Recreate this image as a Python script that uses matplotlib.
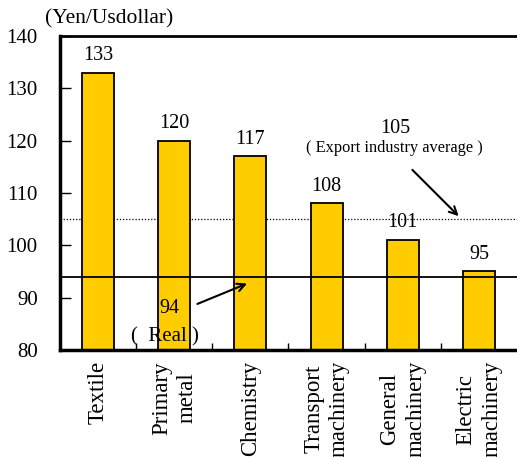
import matplotlib.pyplot as plt

plt.rcParams["font.family"] = ["Liberation Serif", "DejaVu Serif"]

industries = ["Textile", "Primary\nmetal", "Chemistry", "Transport\nmachinery",
              "General\nmachinery", "Electric\nmachinery"]
rates = [133, 120, 117, 108, 101, 95]
real_rate = 94
export_avg = 105

fig = plt.figure(figsize=(5.17, 4.57), dpi=100)
ax = fig.add_axes([60 / 517, 1 - 350 / 457, 1 - 60 / 517, (350 - 36) / 457])

x = list(range(len(industries)))
ax.axhline(export_avg, color="black", lw=0.9, ls=(0, (1, 1.5)), zorder=1)
ax.bar(x, rates, width=0.42, color="#FFCC00", edgecolor="black", lw=1.3, zorder=2)
ax.axhline(real_rate, color="black", lw=1.3, zorder=3)

for xi, v in zip(x, rates):
    ax.text(xi, v + 1.5, str(v), ha="center", va="bottom", fontsize=14.5)

ax.set_xlim(-0.5, len(industries) - 0.5)
ax.set_ylim(80, 140)
ax.set_yticks(range(80, 141, 10))
ax.tick_params(axis="y", direction="in", length=8, width=1, pad=16, labelsize=15)

ax.set_xticks(x)
ax.set_xticklabels(industries, rotation=90, fontsize=16.5, ha="center", va="top",
                   multialignment="center", linespacing=1.3)
ax.tick_params(axis="x", which="major", length=0, pad=8)
ax.set_xticks([i + 0.5 for i in x[:-1]], minor=True)
ax.tick_params(axis="x", which="minor", direction="in", length=5, width=1)

ax.spines["right"].set_visible(False)
ax.spines["left"].set_linewidth(2.5)
ax.spines["bottom"].set_linewidth(2.5)
ax.spines["top"].set_linewidth(2)

# annotations for the two reference lines
ax.text(3.9, 122.4, str(export_avg), ha="center", va="center", fontsize=14.5)
ax.text(3.885, 118.6, "( Export industry average )", ha="center", va="center",
        fontsize=11.8)
ax.annotate("", xy=(4.76, export_avg + 0.2), xytext=(4.1, 114.8),
            arrowprops=dict(arrowstyle="->", lw=1.5, color="black", mutation_scale=14))

ax.text(0.94, 88.0, str(real_rate), ha="center", va="center", fontsize=14.5, zorder=4)
ax.text(0.88, 82.5, "(  Real )", ha="center", va="center", fontsize=15, zorder=4)
ax.annotate("", xy=(1.99, real_rate - 1.1), xytext=(1.27, 88.6),
            arrowprops=dict(arrowstyle="->", lw=1.5, color="black", mutation_scale=14),
            zorder=4)

fig.text(45 / 517, 1 - 19 / 457, "(Yen/Usdollar)", ha="left", va="center", fontsize=15.5)

fig.savefig("out.png", dpi=100)
